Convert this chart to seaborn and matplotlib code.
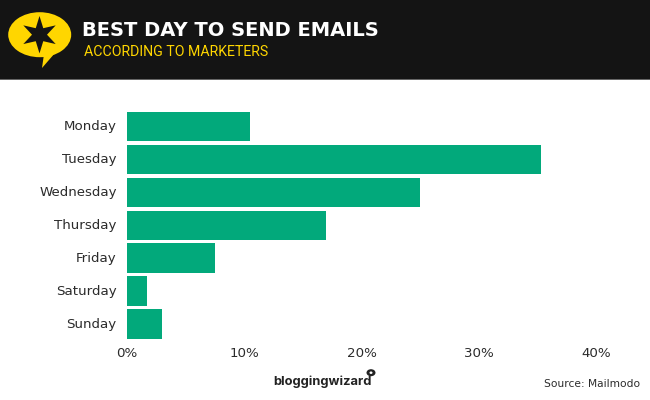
import numpy as np
import matplotlib
matplotlib.use("Agg")
import matplotlib.pyplot as plt
from matplotlib.patches import Rectangle, Ellipse, Polygon
from matplotlib.transforms import ScaledTranslation
import seaborn as sns
import pandas as pd

days = ["Monday", "Tuesday", "Wednesday", "Thursday", "Friday", "Saturday", "Sunday"]
shares = [10.5, 35.3, 25.0, 17.0, 7.5, 1.7, 3.0]
x_ticks = [0, 10, 20, 30, 40]
x_tick_labels = ["0%", "10%", "20%", "30%", "40%"]
title = "BEST DAY TO SEND EMAILS"
subtitle = "ACCORDING TO MARKETERS"
source = "Source: Mailmodo"
brand = "bloggingwizard"

W, H = 650, 400
sns.set_theme(style="white")
plt.rcParams["font.family"] = ["DejaVu Sans"]

fig = plt.figure(figsize=(W / 100, H / 100), dpi=100, facecolor="white")

def fx(x): return x / W
def fy(y): return 1 - y / H

# axes: 0% at x=127, 40% at x=596; rows 33 px apart starting at y=126.5
ax = fig.add_axes([fx(127), fy(340), (596 - 127) / W, (340 - 110) / H])
df = pd.DataFrame({"day": days, "share": shares})
sns.barplot(data=df, y="day", x="share", color="#02A97B", saturation=1,
            width=29.5 / 33, ax=ax, orient="h", linewidth=0)
ax.set_xlim(0, 40)
ax.set_ylim(6 + (340 - 324) / 33, -(126.5 - 110) / 33)
ax.set_xticks(x_ticks)
ax.set_xticklabels(x_tick_labels)
ax.set_xlabel("")
ax.set_ylabel("")
sns.despine(ax=ax, left=True, bottom=True)
ax.tick_params(axis="both", length=0, labelsize=9.6, labelcolor="#2b2b2b")
ax.tick_params(axis="y", pad=7.5)
ax.tick_params(axis="x", pad=5)
shift = ScaledTranslation(0, 1.5 / 100, fig.dpi_scale_trans)
for lab in ax.get_yticklabels():
    lab.set_transform(lab.get_transform() + shift)

# px-coordinate overlay for the header and logo
ov = fig.add_axes([0, 0, 1, 1], facecolor="none")
ov.set_xlim(0, W)
ov.set_ylim(H, 0)
ov.axis("off")
ov.add_patch(Rectangle((0, 0), W, 79, fc="#141414", ec="none"))
ov.add_patch(Rectangle((0, 79), W, 1, fc="#666666", ec="none"))
ov.add_patch(Ellipse((39.7, 34.7), 63, 45, fc="#FFD600", ec="none"))
ov.add_patch(Polygon([[44, 54], [55, 53], [42, 68]], fc="#FFD600", ec="none"))
cx, cy = 39.5, 34.7
angs = np.deg2rad(np.arange(0, 360, 30) - 90)
radii = np.array([18.7, 7.5] * 6, dtype=float)
star = np.c_[cx + radii * np.cos(angs), cy + radii * np.sin(angs)]
ov.add_patch(Polygon(star, fc="#141414", ec="none"))

# header text
ov.text(82, 30.5, title, color="white", fontsize=14.0, fontweight="bold",
        family=["DejaVu Sans"], va="center", ha="left")
ov.text(84, 51.5, subtitle, color="#FFD600", fontsize=10.2, family=["Roboto"],
        va="center", ha="left")

# footer
ov.text(273, 382, brand, color="#222222", fontsize=9.3, fontweight="bold",
        family=["Inter"], va="center", ha="left")
ov.add_patch(Ellipse((371, 372.7), 9, 7, fc="#222222", ec="none"))
ov.add_patch(Ellipse((371, 372.7), 3, 2.5, fc="white", ec="none"))
ov.text(640.5, 384, source, color="#2b2b2b", fontsize=7.7, va="center", ha="right")

fig.savefig("out.png", dpi=100)
